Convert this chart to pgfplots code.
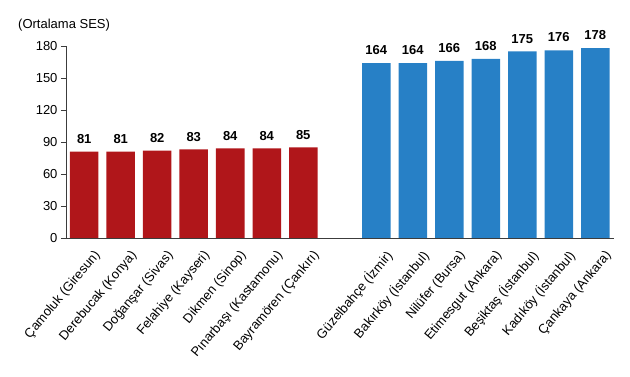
\documentclass[border=0pt]{standalone}
\usepackage{fontspec}
\setmainfont{Liberation Sans}
\usepackage{pgfplots}
\pgfplotsset{compat=1.18}
\definecolor{redbar}{RGB}{176,22,26}
\definecolor{bluebar}{RGB}{39,128,198}
\definecolor{axgray}{RGB}{60,60,60}
\begin{document}
\begin{tikzpicture}
\path[use as bounding box] (-66pt,-139pt) rectangle (564pt,238pt);
\begin{axis}[
  at={(0,0)}, anchor=south west,
  x=36.5pt, y=1.06667pt,
  xmin=-0.5, xmax=14.5, ymin=0, ymax=180,
  ytick={0,30,...,180},
  xtick={0,1,2,3,4,5,6,8,9,10,11,12,13,14},
  xticklabels={{Çamoluk (Giresun)},{Derebucak (Konya)},{Doğanşar (Sivas)},{Felahiye (Kayseri)},{Dikmen (Sinop)},{Pınarbaşı (Kastamonu)},{Bayramören (Çankırı)},{Güzelbahçe (İzmir)},{Bakırköy (İstanbul)},{Nilüfer (Bursa)},{Etimesgut (Ankara)},{Beşiktaş (İstanbul)},{Kadıköy (İstanbul)},{Çankaya (Ankara)}},
  axis x line*=bottom, axis y line*=left,
  axis line style={axgray, line width=0.8pt},
  x tick style={draw=none},
  y tick style={axgray, line width=0.8pt},
  tick align=outside, major tick length=5pt,
  /pgf/number format/assume math mode=true,
  yticklabel style={font=\fontsize{13}{15}\selectfont},
  xticklabel style={rotate=50, anchor=east, inner sep=0pt, font=\fontsize{13}{15}\selectfont, yshift=-17pt, xshift=1pt},
  ybar, bar width=28.5pt, bar shift=0pt,
  nodes near coords,
  every node near coord/.append style={font=\bfseries\fontsize{13}{15}\selectfont, inner sep=0pt, yshift=8pt, text=black},
  clip=false,
]
\addplot[fill=redbar, draw=none] coordinates {(0,81) (1,81) (2,82) (3,83) (4,84) (5,84) (6,85)};
\addplot[fill=bluebar, draw=none] coordinates {(8,164) (9,164) (10,166) (11,168) (12,175) (13,176) (14,178)};
\end{axis}
\node[anchor=base west, font=\fontsize{13}{15}\selectfont, inner sep=0pt] at (-48pt,209pt) {(Ortalama SES)};
\end{tikzpicture}
\end{document}
